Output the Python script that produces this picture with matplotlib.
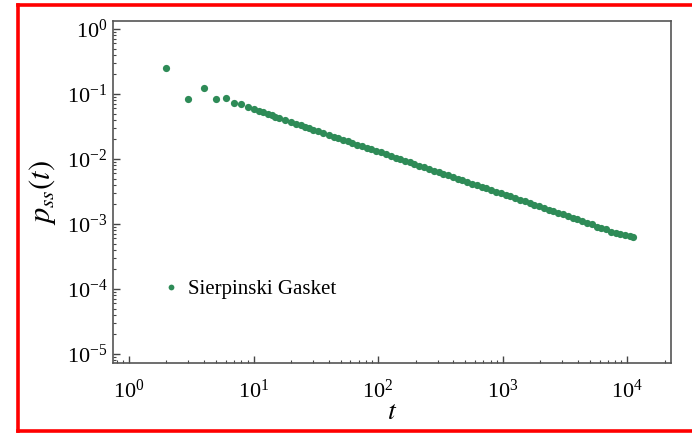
import matplotlib
matplotlib.use("Agg")
from matplotlib import pyplot as plt
from matplotlib.lines import Line2D
from matplotlib.ticker import LogLocator, NullFormatter

plt.rcParams["font.family"] = "Liberation Serif"
plt.rcParams["mathtext.fontset"] = "stix"

# return probability of the walk on the Sierpinski gasket
t = [2, 3, 4, 5, 6, 7, 8, 9, 10, 11, 12, 13, 14, 15, 16, 18, 20, 22, 24, 26,
     28, 30, 33, 36, 40, 44, 48, 52, 57, 62, 68, 74, 81, 88, 96, 105, 115,
     126, 138, 150, 164, 179, 196, 214, 234, 256, 280, 306, 334, 365, 399,
     436, 476, 520, 568, 621, 678, 741, 810, 885, 967, 1056, 1154, 1261,
     1378, 1505, 1644, 1796, 1962, 2144, 2342, 2559, 2796, 3054, 3337, 3645,
     3982, 4350, 4753, 5192, 5672, 6197, 6770, 7396, 8080, 8827, 9643,
     10535, 11200]
p_ss = [0.25, 0.083, 0.125, 0.083, 0.088, 0.072, 0.070, 0.064, 0.0595,
        0.0555, 0.0522, 0.0492, 0.0468, 0.0446, 0.0427, 0.0396, 0.0369,
        0.0347, 0.0328, 0.0311, 0.0297, 0.0284, 0.0267, 0.0252, 0.0235,
        0.0221, 0.0209, 0.0198, 0.0187, 0.0177, 0.0167, 0.0158, 0.0149,
        0.0141, 0.0133, 0.0126, 0.0118, 0.01116, 0.01052, 0.00997, 0.00941,
        0.00888, 0.00838, 0.00791, 0.00746, 0.00704, 0.00664, 0.00627,
        0.00592, 0.00559, 0.00528, 0.00498, 0.00471, 0.00444, 0.00419,
        0.00396, 0.00374, 0.00353, 0.00333, 0.00314, 0.00297, 0.00280,
        0.00265, 0.00250, 0.00236, 0.00223, 0.00210, 0.00198, 0.00187,
        0.00177, 0.00167, 0.00158, 0.00149, 0.00141, 0.00133, 0.00125,
        0.00118, 0.00112, 0.00105, 0.00099, 0.00090, 0.00086, 0.00085,
        0.00076, 0.00074, 0.00070, 0.00067, 0.00065, 0.00063]

fig = plt.figure(figsize=(6.92, 4.33), dpi=100)
ax = fig.add_axes([0.1633, 0.1617, 0.8064, 0.7898])

ax.plot(t, p_ss, "o", color="#2e8b57", markersize=5.2, markeredgewidth=0,
        label="Sierpinski Gasket")

ax.set_xscale("log")
ax.set_yscale("log")
ax.set_xlim(0.744, 22500)
ax.set_ylim(10**-5.138, 10**0.123)

ax.xaxis.set_major_locator(LogLocator(base=10, numticks=10))
ax.yaxis.set_major_locator(LogLocator(base=10, numticks=10))
ax.xaxis.set_minor_locator(LogLocator(base=10, subs=range(2, 10), numticks=20))
ax.yaxis.set_minor_locator(LogLocator(base=10, subs=range(2, 10), numticks=20))
ax.xaxis.set_minor_formatter(NullFormatter())
ax.yaxis.set_minor_formatter(NullFormatter())

ax.tick_params(which="both", direction="in", top=False, right=False,
               color="#444444", labelsize=16)
ax.tick_params(which="major", length=5, width=1)
ax.tick_params(which="minor", length=2.5, width=0.8)
ax.tick_params(axis="x", pad=12)
ax.tick_params(axis="y", pad=4)

for s in ax.spines.values():
    s.set_color("#555555")
    s.set_linewidth(1.2)

ax.set_xlabel("$t$", fontsize=20, labelpad=-2)
ax.set_ylabel("$p_{ss}(t)$", fontsize=22, labelpad=6)

ax.legend(loc="center left", bbox_to_anchor=(0.0735, 0.216), borderaxespad=0,
          frameon=False, fontsize=15, handlelength=0.8, handletextpad=0.45,
          markerscale=0.8)

# red frame round the figure
W, H = 692, 433
for xs, ys in [((18, 692), (5, 5)), ((18, 18), (5, 431)), ((18, 692), (431, 431))]:
    fig.add_artist(Line2D([x / W for x in xs], [1 - y / H for y in ys],
                          transform=fig.transFigure, color="red", linewidth=2.6))

fig.savefig("out.png", dpi=100)
